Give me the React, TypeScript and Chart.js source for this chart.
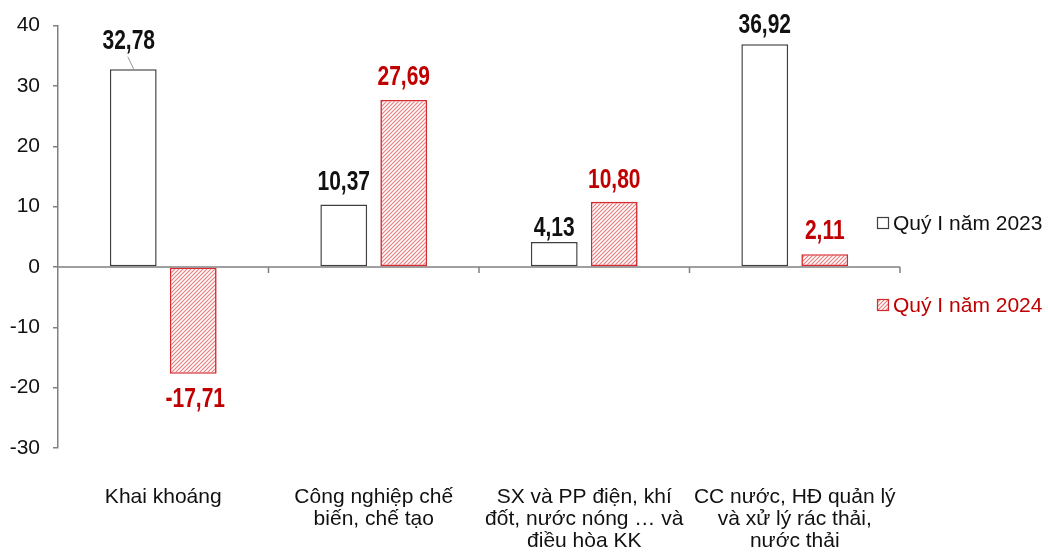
import React, { useEffect, useRef } from "react";
import { Chart, registerables } from "chart.js";

Chart.register(...registerables);

const categories: string[][] = [
  ["Khai khoáng"],
  ["Công nghiệp chế", "biến, chế tạo"],
  ["SX và PP điện, khí", "đốt, nước nóng … và", "điều hòa KK"],
  ["CC nước, HĐ quản lý", "và xử lý rác thải,", "nước thải"],
];
const seriesNames = ["Quý I năm 2023", "Quý I năm 2024"];
const values2023 = [32.78, 10.37, 4.13, 36.92];
const values2024 = [-17.71, 27.69, 10.8, 2.11];
const yMin = -30;
const yMax = 40;
const yStep = 10;

// label styling (gap between bar end and label, px)
const labelGaps = [
  [20, 14, 6, 11],
  [13, 15, 14, 15],
];

const AXIS_FONT = "'Liberation Sans', Arial, sans-serif";
const LABEL_FONT = "bold 28px 'Liberation Sans', Arial, sans-serif";
const LABEL_SCALE_X = 0.75;
const RED = "#c00000";
const BAR_RED = "#d42a30";
const GRAY = "#808080";

function makePattern(): CanvasPattern | string {
  const pc = document.createElement("canvas");
  const s = 8;
  pc.width = s;
  pc.height = s;
  const p = pc.getContext("2d");
  if (!p) return "#f4b0b0";
  p.fillStyle = "#ffffff";
  p.fillRect(0, 0, s, s);
  p.strokeStyle = "#e97c7c";
  p.lineWidth = 1.1;
  p.lineCap = "square";
  p.beginPath();
  // two "/" stripes per tile -> 4px period
  for (const off of [-8, -4, 0, 4, 8]) {
    p.moveTo(off, s);
    p.lineTo(off + s, 0);
  }
  p.stroke();
  const pat = p.createPattern(pc, "repeat");
  return pat || "#f4b0b0";
}

export default function App() {
  const ref = useRef<HTMLCanvasElement | null>(null);

  useEffect(() => {
    document.body.style.margin = "0";
    const canvas = ref.current;
    if (!canvas) return;
    const pattern = makePattern();

    const zeroLinePlugin = {
      id: "zeroLine",
      beforeDatasetsDraw(chart: any) {
        const { ctx, chartArea, scales } = chart;
        const yz = scales.y.getPixelForValue(0);
        ctx.save();
        ctx.strokeStyle = GRAY;
        ctx.lineWidth = 1.5;
        ctx.beginPath();
        ctx.moveTo(chartArea.left, yz);
        ctx.lineTo(chartArea.right, yz);
        const n = categories.length;
        const w = (chartArea.right - chartArea.left) / n;
        for (let i = 1; i <= n; i++) {
          const bx = chartArea.left + i * w;
          ctx.moveTo(bx, yz);
          ctx.lineTo(bx, yz + 6);
        }
        ctx.stroke();
        ctx.restore();
      },
    };

    const drawLabel = (ctx: any, txt: string, x: number, y: number) => {
      ctx.save();
      ctx.translate(x, y);
      ctx.scale(LABEL_SCALE_X, 1);
      ctx.fillText(txt, 0, 0);
      ctx.restore();
    };

    const valueLabelPlugin = {
      id: "valueLabels",
      afterDatasetsDraw(chart: any) {
        const { ctx } = chart;
        ctx.save();
        ctx.font = LABEL_FONT;
        ctx.textAlign = "center";
        ctx.textBaseline = "alphabetic";
        const capH = 20;
        chart.data.datasets.forEach((ds: any, di: number) => {
          const meta = chart.getDatasetMeta(di);
          meta.data.forEach((bar: any, i: number) => {
            const v = ds.data[i] as number;
            const txt = v.toFixed(2).replace(".", ",");
            const gap = labelGaps[di][i];
            ctx.fillStyle = di === 0 ? "#111111" : RED;
            if (v >= 0) {
              let lx = bar.x;
              if (di === 0 && i === 0) {
                lx = bar.x - 4.5;
                ctx.strokeStyle = "#999999";
                ctx.lineWidth = 1;
                ctx.beginPath();
                ctx.moveTo(bar.x - 5.5, bar.y - 12.5);
                ctx.lineTo(bar.x + 0.5, bar.y);
                ctx.stroke();
              }
              drawLabel(ctx, txt, lx, bar.y - gap);
            } else {
              drawLabel(ctx, txt, bar.x + 2, bar.y + gap + capH);
            }
          });
        });
        ctx.restore();
      },
    };

    const legendPlugin = {
      id: "customLegend",
      afterDraw(chart: any) {
        const { ctx } = chart;
        const items = [
          { text: seriesNames[0], y: 223, color: "#111111", fill: "#ffffff", stroke: "#404040" },
          { text: seriesNames[1], y: 305, color: RED, fill: pattern, stroke: BAR_RED },
        ];
        ctx.save();
        ctx.font = `21px ${AXIS_FONT}`;
        ctx.textBaseline = "middle";
        ctx.textAlign = "left";
        items.forEach((it) => {
          ctx.fillStyle = it.fill as any;
          ctx.fillRect(877.5, it.y - 5.5, 11, 11);
          ctx.strokeStyle = it.stroke;
          ctx.lineWidth = 1.2;
          ctx.strokeRect(877.5, it.y - 5.5, 11, 11);
          ctx.fillStyle = it.color;
          ctx.fillText(it.text, 893, it.y + 1);
        });
        ctx.restore();
      },
    };

    const chart = new Chart(canvas, {
      type: "bar",
      data: {
        labels: categories,
        datasets: [
          {
            label: seriesNames[0],
            data: values2023,
            backgroundColor: "#ffffff",
            borderColor: "#404040",
            borderWidth: 1.5,
            borderSkipped: false,
            categoryPercentage: 0.57,
            barPercentage: 0.78,
          },
          {
            label: seriesNames[1],
            data: values2024,
            backgroundColor: pattern as any,
            borderColor: BAR_RED,
            borderWidth: 1.6,
            borderSkipped: false,
            categoryPercentage: 0.57,
            barPercentage: 0.78,
          },
        ],
      },
      options: {
        animation: false,
        responsive: true,
        maintainAspectRatio: false,
        layout: { padding: { left: 0, right: 148, top: 25, bottom: 0 } },
        plugins: {
          legend: { display: false },
          tooltip: { enabled: false },
          title: { display: false },
        },
        scales: {
          x: {
            grid: { display: false, drawTicks: false },
            border: { display: false },
            ticks: {
              padding: 38,
              color: "#111111",
              maxRotation: 0,
              autoSkip: false,
              font: { family: AXIS_FONT, size: 21, lineHeight: 1.06 },
            },
            afterFit(scale: any) {
              scale.height = 105;
            },
          },
          y: {
            min: yMin,
            max: yMax,
            grid: {
              drawOnChartArea: false,
              drawTicks: true,
              tickLength: 5,
              color: GRAY,
              lineWidth: 1.5,
            },
            border: { display: true, color: GRAY, width: 1.5 },
            ticks: {
              stepSize: yStep,
              padding: 13,
              color: "#111111",
              font: { family: AXIS_FONT, size: 21 },
              callback: (v: any) => String(v),
            },
            afterFit(scale: any) {
              scale.width = 58;
            },
          },
        },
      },
      plugins: [zeroLinePlugin, valueLabelPlugin, legendPlugin],
    });

    return () => {
      chart.destroy();
    };
  }, []);

  return (
    <div style={{ position: "relative", width: 1048, height: 553, background: "#ffffff" }}>
      <canvas ref={ref} />
    </div>
  );
}
